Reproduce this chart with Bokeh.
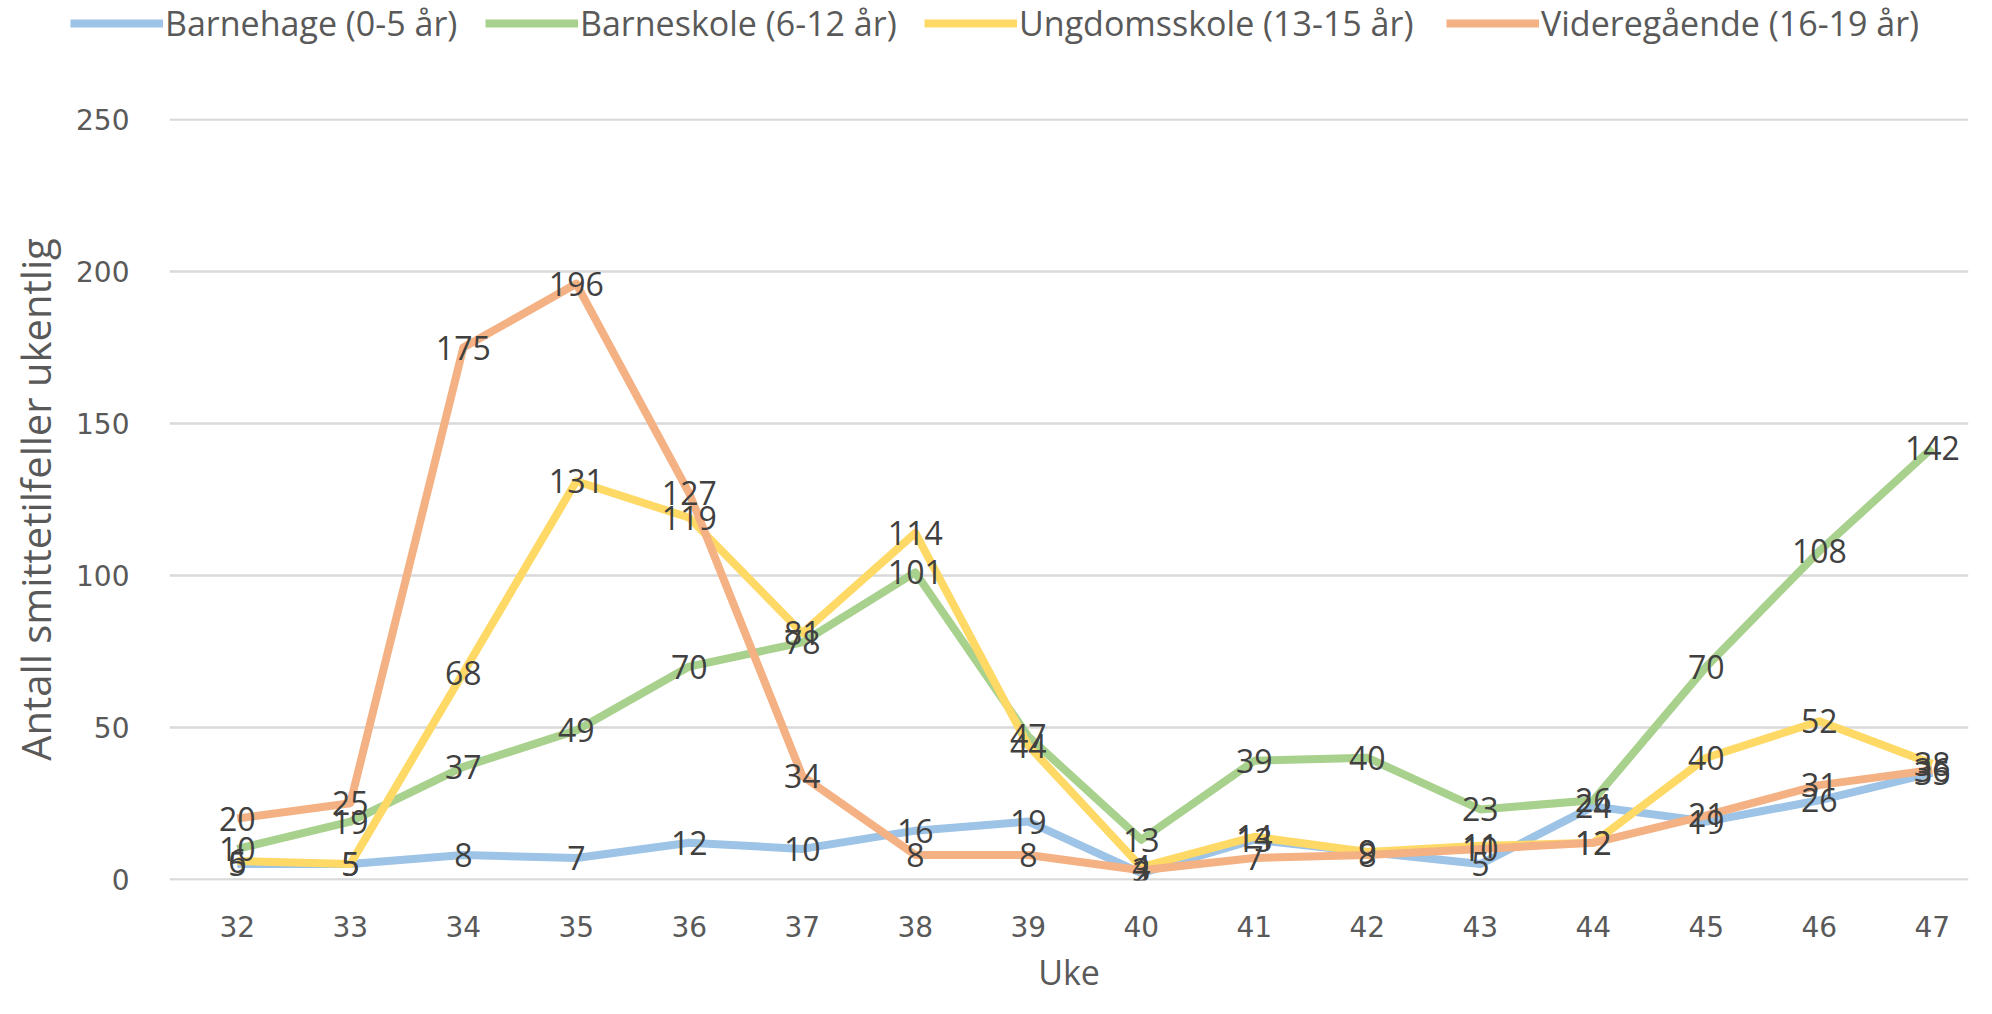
from bokeh.plotting import figure
from bokeh.models import (Range1d, FixedTicker, Legend, LegendItem,
                          ColumnDataSource)
from bokeh.embed import file_html
from bokeh.resources import INLINE
from bokeh.core.properties import value

# ---- data ----
weeks = [32, 33, 34, 35, 36, 37, 38, 39, 40, 41, 42, 43, 44, 45, 46, 47]
barnehage = [5, 5, 8, 7, 12, 10, 16, 19, 2, 13, 9, 5, 24, 19, 26, 35]
barneskole = [10, 19, 37, 49, 70, 78, 101, 47, 13, 39, 40, 23, 26, 70, 108, 142]
ungdomsskole = [6, 5, 68, 131, 119, 81, 114, 44, 4, 14, 9, 11, 12, 40, 52, 38]
videregaende = [20, 25, 175, 196, 127, 34, 8, 8, 3, 7, 8, 10, 12, 21, 31, 36]

series_names = ["Barnehage (0-5 år)", "Barneskole (6-12 år)",
                "Ungdomsskole (13-15 år)", "Videregående (16-19 år)"]
series_values = [barnehage, barneskole, ungdomsskole, videregaende]
series_colors = ["#9DC3E6", "#A9D18E", "#FFD966", "#F4B183"]
y_ticks = [0, 50, 100, 150, 200, 250]

x_title = "Uke"
y_title = "Antall smittetilfeller ukentlig"

W = 1976
LEG_H = 56
MAIN_H = 942

# ---- legend strip (separate root) ----
lf = figure(width=W, height=LEG_H, output_backend="svg", toolbar_location=None,
            x_range=Range1d(0, 1), y_range=Range1d(0, 1),
            x_axis_location=None, y_axis_location=None)
lf.min_border = 0
lf.outline_line_color = None
lf.xgrid.grid_line_color = None
lf.ygrid.grid_line_color = None
legend_x = [70, 485, 924, 1446]
for name, col, lx in zip(series_names, series_colors, legend_x):
    # legend-only renderer, its points lie outside the visible range
    r = lf.line(x=[-5, -4], y=[-5, -5], line_color=col, line_width=8)
    lg = Legend(items=[LegendItem(label=name, renderers=[r])],
                location=(lx, 10), orientation="horizontal",
                padding=0, margin=0, spacing=0,
                glyph_width=93, glyph_height=36, label_height=36,
                label_standoff=2,
                label_text_font="Open Sans", label_text_font_size="34px",
                label_text_color="#595959",
                border_line_alpha=0, background_fill_alpha=0)
    lf.add_layout(lg, "center")

# ---- main chart ----
p = figure(width=W, height=MAIN_H, output_backend="svg", toolbar_location=None,
           x_range=Range1d(31.40, 47.32), y_range=Range1d(-0.4, 250.4))
p.min_border_left = 169
p.min_border_right = 8
p.min_border_top = 62
p.min_border_bottom = 118
p.outline_line_color = None
p.background_fill_color = "white"

p.xaxis.ticker = FixedTicker(ticks=weeks)
p.yaxis.ticker = FixedTicker(ticks=y_ticks)
for ax in (p.xaxis, p.yaxis):
    ax.axis_line_color = None
    ax.major_tick_line_color = None
    ax.minor_tick_line_color = None
    ax.major_label_text_font = "DejaVu Sans"
    ax.major_label_text_font_size = "28px"
    ax.major_label_text_color = "#595959"
    ax.axis_label_text_font = "Open Sans"
    ax.axis_label_text_font_style = "normal"
    ax.axis_label_text_color = "#595959"
p.xaxis.major_label_standoff = 29
p.yaxis.major_label_standoff = 34

p.yaxis.axis_label = y_title
p.yaxis.axis_label_text_font_size = "40px"
p.yaxis.axis_label_standoff = 10

p.xaxis.axis_label = x_title
p.xaxis.axis_label_text_font_size = "34px"
p.xaxis.axis_label_standoff = 9

p.xgrid.grid_line_color = None
p.ygrid.grid_line_color = "#D9D9D9"
p.ygrid.grid_line_width = 2.5

for vals, col in zip(series_values, series_colors):
    p.line(weeks, vals, line_color=col, line_width=8, line_join="round")

for vals in series_values:
    src = ColumnDataSource(dict(x=weeks, y=vals, t=[str(v) for v in vals]))
    p.text(x="x", y="y", text="t", source=src, text_align="center",
           text_baseline="middle", text_font=value("Open Sans"),
           text_font_size="32px", text_color="#404040")

open("out.html", "w").write(file_html([lf, p], INLINE))
